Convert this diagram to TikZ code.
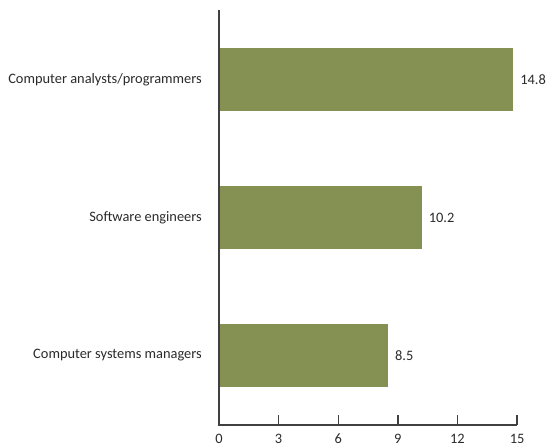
\documentclass[tikz,border=0pt]{standalone}
\usepackage{fontspec}
\setmainfont{Carlito}
\usepackage{xcolor}
\usepackage{tikz}
\definecolor{barolive}{HTML}{849153}
\definecolor{axisgray}{HTML}{404040}
\definecolor{textgray}{HTML}{2A2A2A}
\tikzset{
  barfill/.style={fill=barolive},
  axisline/.style={draw=axisgray,line width=1.4pt},
  catlabel/.style={anchor=east,text=textgray,font=\fontsize{14.4}{17}\selectfont,inner sep=0pt},
  barval/.style={anchor=west,text=textgray,font=\fontsize{14.4}{17}\selectfont,inner sep=0pt},
  ticklabel/.style={text=textgray,font=\fontsize{14.4}{17}\selectfont,inner sep=0pt}
}
\newcommand{\unitx}{19.87}
\newcommand{\drawBar}[4]{% name, centre y, value, label
  \fill[barfill] (0,#2-31.5) rectangle (#3*\unitx,#2+31.5);
  \node[barval] (#1val) at (#3*\unitx+7,#2) {#3};
  \node[catlabel] (#1lab) at (-17,#2) {#4};
}

\begin{document}
\begin{tikzpicture}[x=1pt,y=1pt]
\useasboundingbox (-219,-21) rectangle (327,425);

% Bars
\drawBar{analysts}{345.5}{14.8}{Computer analysts/programmers}
\drawBar{software}{207.5}{10.2}{Software engineers}
\drawBar{managers}{69.5}{8.5}{Computer systems managers}

% Axes
\coordinate (origin) at (0,0);
\coordinate (ytop) at (0,415);
\coordinate (xend) at (15*\unitx,0);
\draw[axisline] (ytop) -- (origin) -- (xend);

% Ticks
\foreach \t in {0,3,...,15}{
  \draw[axisline] (\t*\unitx,0) -- (\t*\unitx,10);
  \node[ticklabel] (tick\t) at (\t*\unitx,-14) {\t};
}
\end{tikzpicture}
\end{document}
